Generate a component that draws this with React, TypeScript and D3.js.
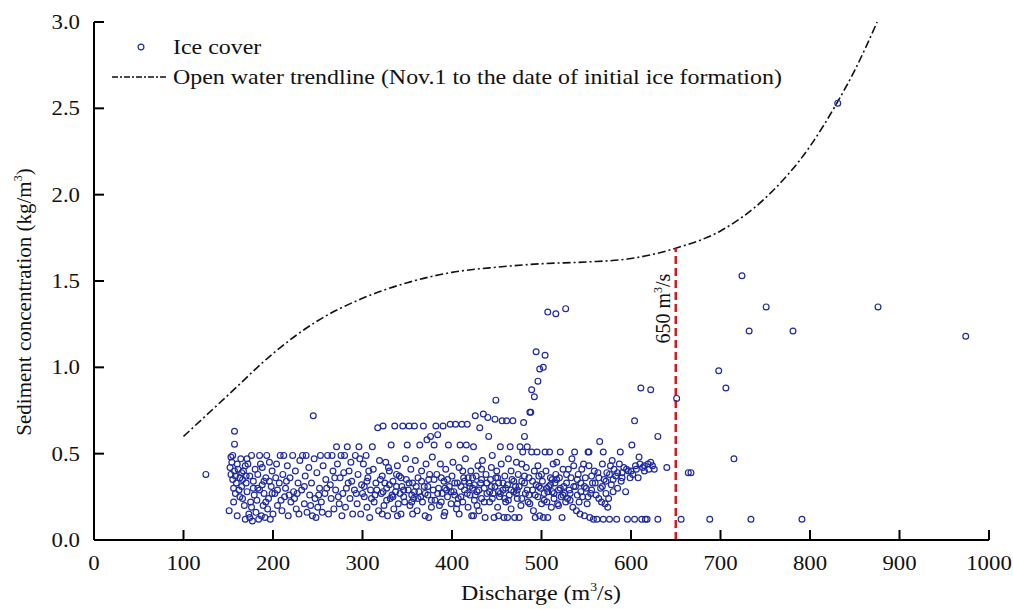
import React from "react";
import * as d3 from "d3";

const xTicks = [0, 100, 200, 300, 400, 500, 600, 700, 800, 900, 1000];
const yTicks = [0, 0.5, 1.0, 1.5, 2.0, 2.5, 3.0];

const trendX = [100, 150, 200, 250, 300, 350, 400, 450, 500, 550, 600, 650, 700, 750, 800, 830, 850, 875];
const trendY = [0.6, 0.84, 1.08, 1.27, 1.4, 1.49, 1.55, 1.58, 1.6, 1.61, 1.63, 1.69, 1.79, 1.98, 2.28, 2.53, 2.72, 3.0];

const thresholdDischarge = 650;

const iceCoverLow: [number, number][] = [
  [151,0.17],[153,0.38],[152,0.42],[154,0.45],[153,0.48],[155,0.35],[156,0.30],[157,0.40],[158,0.27],[156,0.22],[159,0.33],[160,0.44],[157,0.555],[157,0.63],[155,0.49],[158,0.37],[161,0.41],[162,0.29],[160,0.14],[163,0.36],
  [164,0.47],[165,0.31],[166,0.24],[167,0.40],[168,0.20],[169,0.12],[170,0.33],[171,0.28],[172,0.44],[173,0.15],[174,0.37],[175,0.22],[176,0.49],[177,0.11],[178,0.30],[179,0.26],[180,0.41],[166,0.35],[169,0.43],[174,0.13],[176,0.19],[178,0.34],[163,0.25],[171,0.47],
  [181,0.16],[182,0.23],[183,0.38],[184,0.12],[185,0.29],[186,0.44],[187,0.14],[188,0.32],[189,0.20],[190,0.27],[191,0.13],[192,0.36],[193,0.49],[194,0.18],[195,0.24],[196,0.45],[197,0.12],[198,0.31],[199,0.40],[200,0.15],[185,0.49],[188,0.42],[192,0.22],[196,0.34],[199,0.27],
  [202,0.27],[204,0.44],[205,0.20],[207,0.33],[208,0.49],[210,0.17],[211,0.38],[213,0.25],[214,0.30],[216,0.43],[217,0.14],[219,0.36],[220,0.22],[222,0.49],[223,0.28],[225,0.40],[226,0.18],[228,0.33],[229,0.15],[230,0.46],[212,0.49],[218,0.26],[224,0.24],[203,0.36],[209,0.23],
  [232,0.29],[233,0.49],[235,0.21],[236,0.37],[238,0.16],[240,0.42],[241,0.26],[243,0.33],[244,0.14],[246,0.47],[247,0.24],[249,0.39],[250,0.19],[252,0.30],[253,0.49],[255,0.16],[256,0.43],[258,0.27],[259,0.35],[237,0.49],[242,0.20],[248,0.13],[254,0.22],[245,0.72],
  [261,0.49],[262,0.15],[264,0.32],[265,0.24],[267,0.40],[268,0.18],[270,0.29],[271,0.54],[272,0.44],[274,0.21],[275,0.36],[277,0.14],[278,0.27],[280,0.49],[281,0.19],[283,0.54],[284,0.33],[286,0.24],[287,0.45],[289,0.15],[266,0.49],[276,0.49],[285,0.40],[269,0.36],[279,0.39],
  [291,0.29],[292,0.49],[294,0.21],[295,0.38],[296,0.54],[298,0.15],[299,0.32],[301,0.44],[302,0.25],[304,0.49],[305,0.19],[306,0.36],[308,0.13],[309,0.29],[311,0.54],[312,0.41],[313,0.22],[315,0.33],[317,0.65],[318,0.17],[319,0.46],[300,0.27],[307,0.40],[314,0.26],[297,0.47],
  [321,0.27],[322,0.37],[323,0.66],[324,0.20],[326,0.45],[327,0.30],[328,0.14],[330,0.40],[331,0.24],[332,0.55],[334,0.34],[335,0.18],[336,0.66],[337,0.28],[339,0.43],[340,0.21],[341,0.37],[343,0.15],[344,0.31],[345,0.66],[346,0.25],[348,0.47],[349,0.35],[325,0.33],[333,0.26],[338,0.38],[342,0.27],[347,0.22],[329,0.42],[350,0.55],
  [351,0.29],[352,0.66],[353,0.20],[354,0.41],[356,0.33],[357,0.24],[358,0.66],[359,0.46],[361,0.17],[362,0.36],[363,0.28],[364,0.55],[366,0.40],[367,0.22],[368,0.66],[369,0.31],[370,0.14],[371,0.44],[372,0.58],[373,0.26],[374,0.35],[376,0.60],[377,0.19],[378,0.48],[379,0.29],[355,0.26],[360,0.31],[365,0.25],[375,0.38],[380,0.55],
  [381,0.23],[382,0.66],[383,0.38],[384,0.61],[385,0.30],[386,0.20],[387,0.44],[389,0.27],[390,0.66],[391,0.34],[392,0.16],[393,0.41],[395,0.25],[396,0.55],[397,0.31],[398,0.67],[399,0.21],[400,0.37],[401,0.45],[402,0.28],[404,0.67],[405,0.18],[406,0.33],[407,0.24],[408,0.42],[409,0.55],[388,0.36],[394,0.29],[403,0.26],[410,0.31],
  [411,0.67],[412,0.22],[413,0.36],[414,0.29],[415,0.47],[416,0.55],[417,0.67],[418,0.19],[419,0.33],[420,0.26],[421,0.40],[422,0.14],[423,0.30],[424,0.54],[425,0.23],[426,0.72],[427,0.37],[428,0.28],[429,0.43],[430,0.17],[431,0.65],[432,0.33],[433,0.24],[434,0.46],[435,0.73],[436,0.30],[437,0.13],[438,0.38],[439,0.27],[440,0.71],[412,0.40],[418,0.36],[425,0.32],[433,0.41],[428,0.20],
  [441,0.60],[442,0.22],[443,0.35],[444,0.31],[445,0.49],[446,0.27],[447,0.13],[448,0.70],[449,0.81],[450,0.40],[451,0.19],[452,0.33],[453,0.25],[454,0.54],[455,0.44],[456,0.69],[457,0.29],[458,0.13],[459,0.37],[460,0.22],[461,0.69],[462,0.32],[463,0.47],[464,0.26],[465,0.54],[466,0.18],[467,0.35],[468,0.69],[469,0.28],[470,0.13],[444,0.42],[452,0.28],[459,0.24],[466,0.40],[449,0.36],
  [471,0.31],[472,0.45],[473,0.24],[474,0.38],[475,0.13],[476,0.54],[477,0.20],[478,0.34],[479,0.51],[480,0.68],[481,0.60],[482,0.27],[483,0.42],[484,0.54],[485,0.22],[486,0.36],[487,0.74],[488,0.74],[489,0.51],[490,0.29],[491,0.17],[492,0.40],[493,0.13],[494,0.32],[495,0.51],[496,0.25],[497,0.37],[498,0.14],[499,0.30],[500,0.21],[473,0.29],[481,0.33],[486,0.26],[496,0.43],[478,0.44],
  [501,0.34],[502,0.13],[503,0.27],[504,0.51],[505,0.40],[506,0.22],[507,0.13],[508,0.31],[509,0.51],[510,0.36],[511,0.19],[512,0.28],[513,0.44],[514,0.24],[515,0.33],[516,0.38],[517,0.45],[518,0.21],[519,0.29],[520,0.36],[521,0.51],[522,0.25],[523,0.13],[524,0.41],[525,0.31],[526,0.27],[527,0.22],[528,0.38],[529,0.24],[530,0.41],[506,0.30],[512,0.35],[519,0.20],
  [531,0.29],[532,0.23],[533,0.36],[535,0.19],[536,0.43],[537,0.51],[538,0.31],[539,0.17],[540,0.26],[541,0.38],[543,0.15],[544,0.33],[545,0.41],[546,0.25],[548,0.14],[549,0.36],[550,0.30],[551,0.21],[552,0.51],[553,0.43],[554,0.13],[555,0.27],[556,0.37],[557,0.33],[558,0.12],[559,0.40],[534,0.47],[542,0.22],[547,0.44],[553,0.51],
  [561,0.26],[562,0.12],[563,0.39],[564,0.24],[565,0.57],[566,0.30],[567,0.22],[568,0.44],[569,0.12],[570,0.35],[571,0.21],[572,0.27],[573,0.39],[575,0.24],[576,0.12],[577,0.43],[578,0.32],[580,0.28],[581,0.41],[583,0.37],[584,0.12],[585,0.30],[587,0.44],[588,0.51],[589,0.34],[590,0.39],[592,0.42],[594,0.28],[596,0.12],[597,0.40],[599,0.36],[569,0.51],[574,0.19],[579,0.46],
  [601,0.55],[602,0.38],[604,0.12],[604,0.69],[606,0.41],[608,0.36],[609,0.48],[611,0.88],[612,0.12],[613,0.42],[615,0.40],[616,0.12],[618,0.12],[619,0.44],[620,0.41],[622,0.45],[622,0.87],[624,0.43],[626,0.41],[630,0.60],[630,0.12],[640,0.42],[651,0.82],[656,0.12],[664,0.39],
];

const iceCoverDense: [number, number][] = [
  [302,0.31],[305,0.34],[310,0.24],[316,0.29],[320,0.35],[323,0.28],[327,0.23],[330,0.32],[334,0.25],[338,0.31],[343,0.36],[346,0.29],[352,0.33],[355,0.22],[358,0.28],[362,0.24],[366,0.34],[370,0.27],[373,0.31],[377,0.23],[380,0.35],[384,0.27],[388,0.22],[392,0.30],[395,0.35],[399,0.28],[403,0.33],[406,0.21],[410,0.25],[414,0.34],[417,0.27],[420,0.31],[423,0.36],[426,0.26],[430,0.29],[433,0.35],[436,0.22],[439,0.33],[442,0.28],[445,0.24],[448,0.31],[451,0.36],[454,0.27],[457,0.33],[460,0.30],[463,0.23],[466,0.29],[469,0.34],[472,0.27],[475,0.31],[478,0.24],[481,0.37],[484,0.29],[487,0.21],[490,0.34],[493,0.26],[497,0.31],[500,0.38],[503,0.23],[507,0.28],[510,0.32],[514,0.27],[517,0.35],[521,0.30],[524,0.26],[528,0.33],[532,0.27],[536,0.31],[540,0.35],[544,0.28],[548,0.31],[552,0.25],[556,0.29],[560,0.33],[564,0.36],[568,0.31],[572,0.34],[576,0.38],[580,0.35],[585,0.39],[590,0.36],[595,0.41],[600,0.40],[605,0.43],[610,0.44],[615,0.43],
  [165,0.39],[170,0.37],[183,0.30],[190,0.34],[205,0.29],[215,0.34],[227,0.27],[235,0.31],[251,0.26],[260,0.30],[273,0.25],[282,0.30],[288,0.34],[293,0.27],
  [322,0.15],[339,0.14],[356,0.15],[374,0.13],[391,0.14],[408,0.15],[424,0.14],[452,0.14],[462,0.13],
];

const iceCoverHigh: [number, number][] = [
  [125,0.38],[494,1.09],[504,1.07],[498,0.99],[502,1.00],[496,0.92],[489,0.87],[492,0.83],[507,1.32],[516,1.31],[527,1.34],
  [698,0.98],[706,0.88],[715,0.47],[724,1.53],[732,1.21],[734,0.12],[751,1.35],[781,1.21],[791,0.12],[876,1.35],[974,1.18],[831,2.53],[688,0.12],[667,0.39],
];

const W = 1013, H = 609;
const FONT = "'Liberation Serif', 'Times New Roman', serif";
const dotColor = "#1f2a9c";
const SX = 1.14;

function HText({ x, y, anchor = "start", size = 21, children }: any) {
  return (
    <text transform={`translate(${x},${y}) scale(${SX},1)`} textAnchor={anchor} fontSize={size} fill="#111">
      {children}
    </text>
  );
}

export default function App() {
  const x = d3.scaleLinear().domain([0, 1000]).range([94, 989]);
  const y = d3.scaleLinear().domain([0, 3]).range([540, 22]);
  const trend = trendX.map((v, i) => [v, trendY[i]] as [number, number]);
  const line = d3.line<[number, number]>().x(d => x(d[0])).y(d => y(d[1])).curve(d3.curveMonotoneX);
  const points = [...iceCoverLow, ...iceCoverDense, ...iceCoverHigh];
  const trendAt650 = trendY[trendX.indexOf(thresholdDischarge)];
  const fmt = d3.format(".1f");
  return (
    <svg width={W} height={H} style={{ position: "absolute", left: 0, top: 0, background: "#fff" }} fontFamily={FONT}>
      <rect width={W} height={H} fill="#fff" />
      <path d={line(trend) || ""} fill="none" stroke="#111" strokeWidth={1.6} strokeDasharray="8,3,2,3" />
      <line x1={x(thresholdDischarge)} x2={x(thresholdDischarge)} y1={y(0)} y2={y(trendAt650)} stroke="#d71920" strokeWidth={2.5} strokeDasharray="8,4" />
      <text transform={`translate(${x(thresholdDischarge) - 6},${y(1.34)}) rotate(-90)`} textAnchor="middle" fontSize={20} fill="#111">
        650 m<tspan dy={-8} fontSize={12}>3</tspan><tspan dy={8}>/s</tspan>
      </text>
      {points.map((p, i) => (
        <circle key={i} cx={x(p[0])} cy={y(p[1])} r={2.9} fill="none" stroke={dotColor} strokeWidth={1.2} />
      ))}
      <line x1={x(0)} x2={x(1000)} y1={y(0)} y2={y(0)} stroke="#000" strokeWidth={2} />
      <line x1={x(0)} x2={x(0)} y1={y(0)} y2={y(3)} stroke="#000" strokeWidth={2} />
      {xTicks.map(t => (
        <g key={"x" + t}>
          <line x1={x(t)} x2={x(t)} y1={y(0)} y2={y(0) - 10} stroke="#000" strokeWidth={2} />
          <HText x={x(t)} y={y(0) + 30} anchor="middle" size={20}>{t}</HText>
        </g>
      ))}
      {yTicks.map(t => (
        <g key={"y" + t}>
          <line x1={x(0)} x2={x(0) + 10} y1={y(t)} y2={y(t)} stroke="#000" strokeWidth={2} />
          <HText x={80} y={y(t) + 7} anchor="end" size={20}>{fmt(t)}</HText>
        </g>
      ))}
      <HText x={541} y={600} anchor="middle" size={21}>
        Discharge (m<tspan dy={-9} fontSize={12}>3</tspan><tspan dy={9}>/s)</tspan>
      </HText>
      <text transform={`translate(31,302) rotate(-90)`} textAnchor="middle" fontSize={21} fill="#111">
        Sediment concentration (kg/m<tspan dy={-9} fontSize={12}>3</tspan><tspan dy={9}>)</tspan>
      </text>
      <circle cx={141} cy={47} r={2.9} fill="none" stroke={dotColor} strokeWidth={1.2} />
      <HText x={173} y={54} size={21}>Ice cover</HText>
      <line x1={112} x2={168} y1={77} y2={77} stroke="#111" strokeWidth={1.4} strokeDasharray="6,2,2,2" />
      <HText x={173} y={84} size={21}>Open water trendline (Nov.1 to the date of initial ice formation)</HText>
    </svg>
  );
}
